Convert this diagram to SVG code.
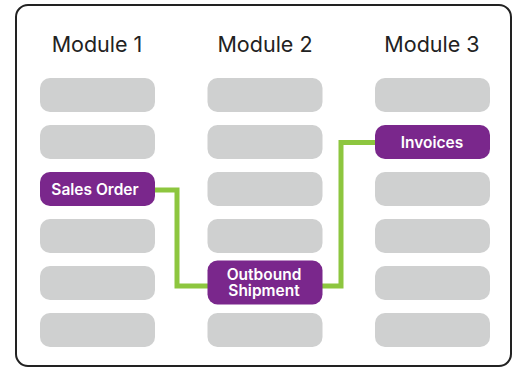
<svg xmlns="http://www.w3.org/2000/svg" width="512" height="367" viewBox="0 0 512 367">
<style>
.frame{fill:#fff;stroke:#222;stroke-width:2}
.g{fill:#cfd0d0}
.p{fill:#7a278c}
.h{font-family:Inter,"Liberation Sans",sans-serif;font-size:21.5px;fill:#222;text-anchor:middle}
.t{font-family:Inter,"Liberation Sans",sans-serif;font-size:15.5px;font-weight:600;fill:#fff;text-anchor:middle}
.c{fill:none;stroke:#8dc63f;stroke-width:5}
</style>
<rect class="frame" x="16" y="5" width="495" height="361" rx="12"/>
<g id="headers">
<text class="h" x="97" y="51.5">Module 1</text>
<text class="h" x="265" y="51.5">Module 2</text>
<text class="h" x="432" y="51.5">Module 3</text>
</g>
<g id="placeholders">
<rect class="g" x="40" y="78" width="115" height="34" rx="10"/>
<rect class="g" x="40" y="125" width="115" height="34" rx="10"/>
<rect class="g" x="40" y="219" width="115" height="34" rx="10"/>
<rect class="g" x="40" y="266" width="115" height="34" rx="10"/>
<rect class="g" x="40" y="313" width="115" height="34" rx="10"/>
<rect class="g" x="207.5" y="78" width="115" height="34" rx="10"/>
<rect class="g" x="207.5" y="125" width="115" height="34" rx="10"/>
<rect class="g" x="207.5" y="172" width="115" height="34" rx="10"/>
<rect class="g" x="207.5" y="219" width="115" height="34" rx="10"/>
<rect class="g" x="207.5" y="313" width="115" height="34" rx="10"/>
<rect class="g" x="375" y="78" width="115" height="34" rx="10"/>
<rect class="g" x="375" y="172" width="115" height="34" rx="10"/>
<rect class="g" x="375" y="219" width="115" height="34" rx="10"/>
<rect class="g" x="375" y="266" width="115" height="34" rx="10"/>
<rect class="g" x="375" y="313" width="115" height="34" rx="10"/>
</g>
<g id="connectors">
<polyline class="c" points="155,190 177,190 177,286 208,286"/>
<polyline class="c" points="322,286 341,286 341,142.5 376,142.5"/>
</g>
<g id="sales-order">
<rect class="p" x="40" y="172" width="115" height="34" rx="10"/>
<text class="t" x="95" y="194.5">Sales Order</text>
</g>
<g id="outbound-shipment">
<rect class="p" x="207.5" y="260.5" width="115" height="44" rx="10"/>
<text class="t" x="264" y="279.5">Outbound</text>
<text class="t" x="264" y="296">Shipment</text>
</g>
<g id="invoices">
<rect class="p" x="375" y="125" width="115" height="34" rx="10"/>
<text class="t" x="432" y="147.5">Invoices</text>
</g>
</svg>
